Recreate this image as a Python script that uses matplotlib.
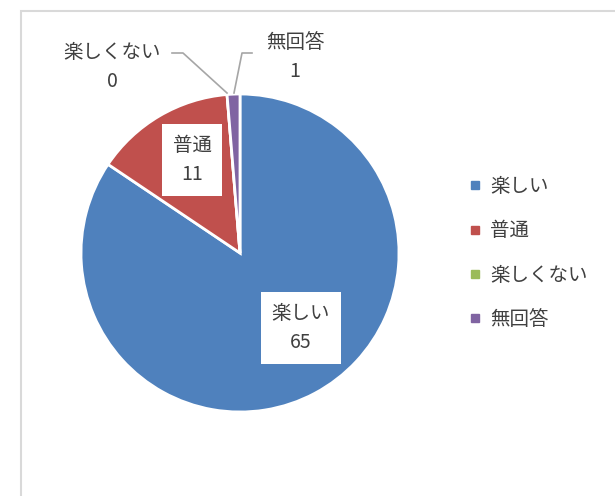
import matplotlib
matplotlib.use("Agg")
import matplotlib.pyplot as plt
from matplotlib.lines import Line2D
from matplotlib.patches import Rectangle

plt.rcParams['font.family'] = ['Noto Sans CJK JP', 'DejaVu Sans']

# data
labels = ['楽しい', '普通', '楽しくない', '無回答']
values = [65, 11, 0, 1]
colors = ['#4F81BD', '#C0504D', '#9BBB59', '#8064A2']
text_color = '#404040'

W, H = 615, 496
fig = plt.figure(figsize=(W / 100, H / 100), dpi=100)

# chart frame
fig.add_artist(Rectangle((21 / W, -0.1), 1.2, 1.1 - 11 / H, transform=fig.transFigure,
                         fill=False, edgecolor='#D9D9D9', lw=1.5))

# pie axes: centre (240, 253) px, radius 159 px
cx, cy, r = 240, 253, 159
ax = fig.add_axes([(cx - r) / W, (H - cy - r) / H, 2 * r / W, 2 * r / H])
wedges, _ = ax.pie(values, colors=colors, startangle=90, counterclock=False, radius=1,
                   wedgeprops=dict(edgecolor='white', linewidth=2))
ax.set_xlim(-1, 1)
ax.set_ylim(-1, 1)
ax.set_aspect('equal')
ax.axis('off')


def px(x, y):
    return (x - cx) / r, (cy - y) / r


box = dict(boxstyle='square,pad=0.55', facecolor='white', edgecolor='none')
fs = 14

# inside labels
for i, pos in [(0, px(301, 328)), (1, px(192, 160))]:
    ax.text(pos[0], pos[1], f'{labels[i]}\n{values[i]}', ha='center', va='center',
            fontsize=fs, color=text_color, bbox=box, linespacing=1.5)

# outside labels with leader lines
for i, pos, line in [(2, px(112, 67), [(172, 53), (183, 53), (227, 93)]),
                     (3, px(295, 57), [(252, 53), (242, 53), (234, 93)])]:
    ax.text(pos[0], pos[1], f'{labels[i]}\n{values[i]}', ha='center', va='center',
            fontsize=fs, color=text_color, linespacing=1.5)
    xs, ys = zip(*[px(a, b) for a, b in line])
    ax.plot(xs, ys, color='#A6A6A6', lw=1.2, clip_on=False)

# legend
handles = [Line2D([], [], marker='s', ls='none', markersize=6, color=c) for c in colors]
leg = fig.legend(handles, labels, loc='center left', bbox_to_anchor=(469 / W, (H - 253) / H),
                 frameon=False, fontsize=fs, handlelength=0.6, handletextpad=0.5,
                 labelspacing=1.2, borderpad=0, borderaxespad=0)
for t in leg.get_texts():
    t.set_color(text_color)

fig.savefig('out.png', dpi=100)
